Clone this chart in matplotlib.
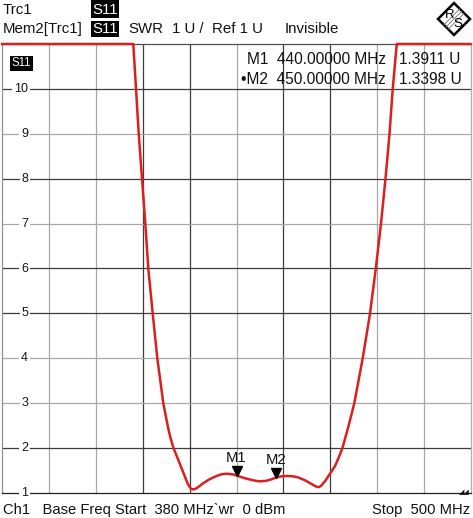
import matplotlib
matplotlib.use('Agg')
import matplotlib.pyplot as plt
from matplotlib.patches import Rectangle, Polygon
from matplotlib.transforms import offset_copy

plt.rcParams['font.family'] = ['Liberation Sans', 'DejaVu Sans']

freq_mhz = [380.0, 413.59, 414.29, 414.98, 415.82, 416.67, 417.43, 418.56, 419.74,
            421.27, 422.5, 423.2, 423.88, 425.0, 426.0, 427.0, 427.6, 428.1, 428.5,
            428.9, 429.4, 430.0, 430.7, 431.5, 433.2, 434.93, 436.3, 437.6, 439.0,
            440.0, 441.7, 443.45, 444.2, 445.0, 446.0, 447.5, 448.8, 450.0, 451.4,
            452.84, 454.6, 455.5, 456.25, 457.6, 458.8, 460.0, 460.5, 460.9, 461.3,
            461.7, 462.7, 464.0, 465.2, 466.2, 467.1, 468.6, 470.14, 472.29, 474.16,
            475.64, 476.97, 478.12, 479.15, 479.97, 481.0, 500.0]
swr = [11, 11, 10, 9, 8, 7, 6, 5, 4,
       3, 2.45, 2.2, 2.0, 1.76, 1.54, 1.32, 1.195, 1.12, 1.09,
       1.08, 1.09, 1.12, 1.165, 1.22, 1.31, 1.38, 1.42, 1.43, 1.415,
       1.391, 1.34, 1.30, 1.285, 1.27, 1.26, 1.27, 1.30, 1.34, 1.37,
       1.38, 1.37, 1.355, 1.33, 1.28, 1.22, 1.16, 1.14, 1.13, 1.14,
       1.165, 1.27, 1.44, 1.60, 1.80, 2.0, 2.47, 3, 4, 5,
       6, 7, 8, 9, 10, 11, 11]

markers = ['M1', 'M2']
marker_freq = [440.0, 450.0]
marker_val = [1.3911, 1.3398]

start_mhz, stop_mhz = 380, 500
y_ticks = [1, 2, 3, 4, 5, 6, 7, 8, 9, 10]

W, H = 473, 518
dark = '#3c3c3c'
light = '#a8a8a8'
red = '#dc1e1e'


def fx(x):
    return x / W


def fy(y):
    return 1 - y / H


fig = plt.figure(figsize=(W / 100, H / 100), dpi=100)
ax = fig.add_axes([fx(2), fy(493), fx(469), 449 / H])
ax.set_xlim(start_mhz, stop_mhz)
ax.set_ylim(1, 11)
ax.set_xticks([])
ax.set_yticks([])

# grid, some lines rendered darker than others as on the instrument screen
vcol = [light, light, dark, dark, light, dark, dark, light, light]
for i, c in enumerate(vcol):
    ax.axvline(start_mhz + 12 * (i + 1), color=c, lw=0.9, zorder=1)
hcol = {2: dark, 3: light, 4: light, 5: dark, 6: dark, 7: light, 8: dark, 9: light, 10: dark}
for v, c in hcol.items():
    ax.axhline(v, color=c, lw=0.9, zorder=1)

for side, c in [('top', '#505050'), ('bottom', '#202020'), ('left', '#909090'), ('right', '#b0b0b0')]:
    ax.spines[side].set_color(c)
    ax.spines[side].set_linewidth(0.9)

ylab_tr = ax.get_yaxis_transform()
for v in y_ticks:
    ax.text((28 - 2) / 469, v, str(v), transform=ylab_tr, ha='right', va='center',
            fontsize=9, color='#151515', zorder=3, clip_on=False,
            bbox=dict(facecolor='white', edgecolor='none', pad=1.2))

ax.plot(freq_mhz, swr, color=red, lw=1.8, zorder=4, clip_on=False,
        solid_joinstyle='round', solid_capstyle='round')

# markers
tri_tr = offset_copy(ax.transData, fig=fig, y=4.5, units='dots')
lab_tr = offset_copy(ax.transData, fig=fig, y=17.5, units='dots')
for name, f, v in zip(markers, marker_freq, marker_val):
    ax.plot([f], [v], marker='v', ms=7.5, color='black', transform=tri_tr, zorder=5, clip_on=False)
    ax.text(f, v, name, transform=lab_tr, ha='center', va='center', fontsize=10.6,
            color='#111111', zorder=5)

# S11 label in the diagram
fig.text(fx(21.5), fy(63.5), 'S11', ha='center', va='center', fontsize=8.3, color='white',
         bbox=dict(facecolor='black', edgecolor='none', pad=1.0), zorder=6)

# marker info
info_size = 11.2
for row, (name, f, v) in enumerate(zip(markers, marker_freq, marker_val)):
    y = fy(59.5 + 20 * row)
    prefix = '' if row == 0 else '\u2022'
    fig.text(fx(386), y, f'{prefix}{name}  {f:.5f} MHz', ha='right', va='center',
             fontsize=info_size, color='#111111')
    fig.text(fx(399), y, f'{v:.4f} U', ha='left', va='center', fontsize=info_size, color='#111111')

# header
hs = 10.8
fig.text(fx(3), fy(10), 'Trc1', ha='left', va='center', fontsize=hs, color='#111111')
fig.text(fx(3), fy(29), 'Mem2[Trc1]', ha='left', va='center', fontsize=hs, color='#111111')
for y0, y1 in [(0, 18), (21, 37)]:
    fig.patches.append(Rectangle((fx(91), fy(y1)), fx(28), (y1 - y0) / H,
                                 transform=fig.transFigure, facecolor='black', edgecolor='none'))
    fig.text(fx(105), fy((y0 + y1) / 2 + 0.5), 'S11', ha='center', va='center', fontsize=hs,
             color='white')
fig.text(fx(128), fy(29), 'SWR', ha='left', va='center', fontsize=hs, color='#111111')
fig.text(fx(172), fy(29), '1 U /', ha='left', va='center', fontsize=hs, color='#111111')
fig.text(fx(212), fy(29), 'Ref 1 U', ha='left', va='center', fontsize=hs, color='#111111')
fig.text(fx(285), fy(29), 'Invisible', ha='left', va='center', fontsize=hs, color='#111111')

# footer
fs = 10.6
fig.text(fx(3), fy(510), 'Ch1   Base Freq Start  380 MHz`wr  0 dBm', ha='left', va='center',
         fontsize=fs, color='#111111')
fig.text(fx(470), fy(510), 'Stop  500 MHz', ha='right', va='center', fontsize=fs, color='#111111')
fig.text(fx(470), fy(492), '\u25e2\u25e2', ha='right', va='center', fontsize=5,
         family=['DejaVu Sans'], color='#111111')

# R&S logo
diamond = [(fx(454), fy(3)), (fx(470), fy(19)), (fx(454), fy(35)), (fx(438), fy(19))]
fig.patches.append(Polygon(diamond, closed=True, transform=fig.transFigure, facecolor='white',
                           edgecolor='black', lw=1.8))
for k in range(3):
    d = 2.2 * (k - 1)
    fig.lines.append(plt.Line2D([fx(446 + d), fx(462 + d)], [fy(27 + d), fy(11 + d)],
                                transform=fig.transFigure, color='#707070', lw=0.6))
fig.text(fx(450), fy(15), 'R', ha='center', va='center', fontsize=9.5, color='black')
fig.text(fx(458), fy(24), 'S', ha='center', va='center', fontsize=9.5, color='black')

fig.savefig('out.png', dpi=100)
